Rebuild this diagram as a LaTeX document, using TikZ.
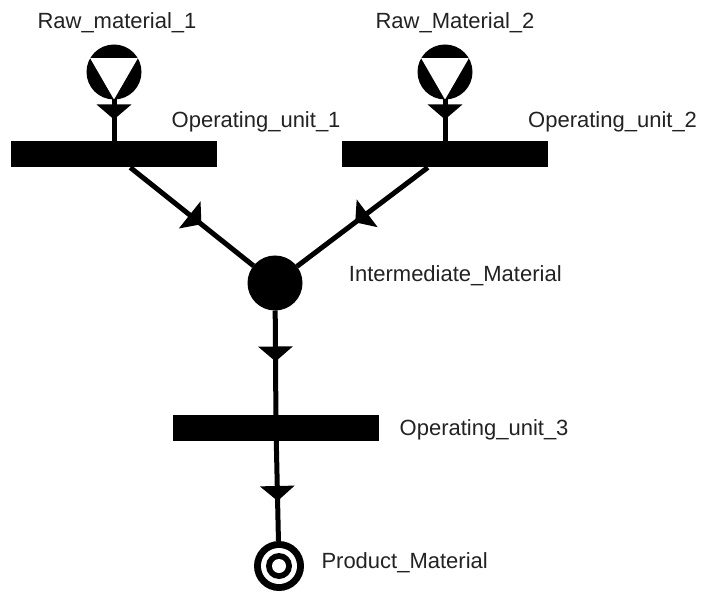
\documentclass[tikz,border=0pt]{standalone}
\usepackage{fontspec}
\setmainfont{Liberation Sans}
\usepackage{tikz}
\usetikzlibrary{arrows.meta,shapes,calc}
\usetikzlibrary{decorations.markings,positioning}
\definecolor{txtgray}{RGB}{34,34,34}
\tikzstyle{opunit} =
  [rectangle, fill=black, inner sep=0pt, outer sep=0pt,
   minimum width=206pt, minimum height=26pt]
\tikzstyle{rawmat} =
  [circle, fill=black, inner sep=0pt, outer sep=0pt, minimum size=55pt,
   path picture={\fill [white, shift={(path picture bounding box.center)}]
     (150:27.5pt) -- (30:27.5pt) -- (270:27.5pt) -- cycle;}]
\tikzstyle{midmat} =
  [circle, fill=black, inner sep=0pt, outer sep=0pt, minimum size=55pt]
\tikzstyle{prodmat} =
  [circle, fill=black, inner sep=0pt, outer sep=0pt, minimum size=50pt,
   path picture={
     \fill [white] (path picture bounding box.center) circle (18pt);
     \fill [black] (path picture bounding box.center) circle (13pt);
     \fill [white] (path picture bounding box.center) circle (7pt);}]
\tikzstyle{txt} =
  [text=txtgray, inner sep=0pt, font=\fontsize{22pt}{26pt}\selectfont]
\tikzstyle{flow} =
  [draw, line width=5pt, postaction={decorate},
   decoration={markings,
     mark=at position #1 with {\arrow{Triangle[width=34pt,length=15pt]}}}]

\begin{document}
\begin{tikzpicture}[node distance = 82.5pt]
  \useasboundingbox (-114pt,72pt) rectangle (589pt,-521pt);
  \node [rawmat] (raw1) {};
  \node [rawmat, right of=raw1, node distance=331pt] (raw2) {};
  \node [opunit, below of=raw1] (op1) {};
  \node [opunit, below of=raw2] (op2) {};
  \node [midmat, below of=op1, node distance=128.5pt, xshift=161pt] (mid) {};
  \node [opunit, below of=mid, node distance=145pt, xshift=1pt] (op3) {};
  \node [prodmat, below of=op3, node distance=138pt, xshift=3pt] (prod) {};

  \node [txt, above of=raw1, node distance=43.7pt, xshift=3pt, anchor=base]
    (rawlbl1) {Raw\_material\_1};
  \node [txt, above of=raw2, node distance=43.7pt, xshift=10pt, anchor=base]
    (rawlbl2) {Raw\_Material\_2};
  \node [txt, right of=op1, node distance=57.5pt, yshift=26.5pt,
    anchor=base west] (op1lbl) {Operating\_unit\_1};
  \node [txt, right of=op2, node distance=83pt, yshift=26.5pt,
    anchor=base west] (op2lbl) {Operating\_unit\_2};
  \node [txt, right of=mid, node distance=73.7pt, yshift=1.3pt,
    anchor=base west] (midlbl) {Intermediate\_Material};
  \node [txt, right of=op3, node distance=123.5pt, yshift=-7pt,
    anchor=base west] (op3lbl) {Operating\_unit\_3};
  \node [txt, right of=prod, node distance=42.3pt, yshift=-2.3pt,
    anchor=base west] (prodlbl) {Product\_Material};

  \draw [flow=20pt] (raw1) -- (op1);
  \draw [flow=20pt] (raw2) -- (op2);
  \draw [flow=91pt] (op1) -- (mid);
  \draw [flow=91pt] (op2) -- (mid);
  \draw [flow=51pt] (mid) -- (op3);
  \draw [flow=60pt] (op3) -- (prod);
\end{tikzpicture}
\end{document}
